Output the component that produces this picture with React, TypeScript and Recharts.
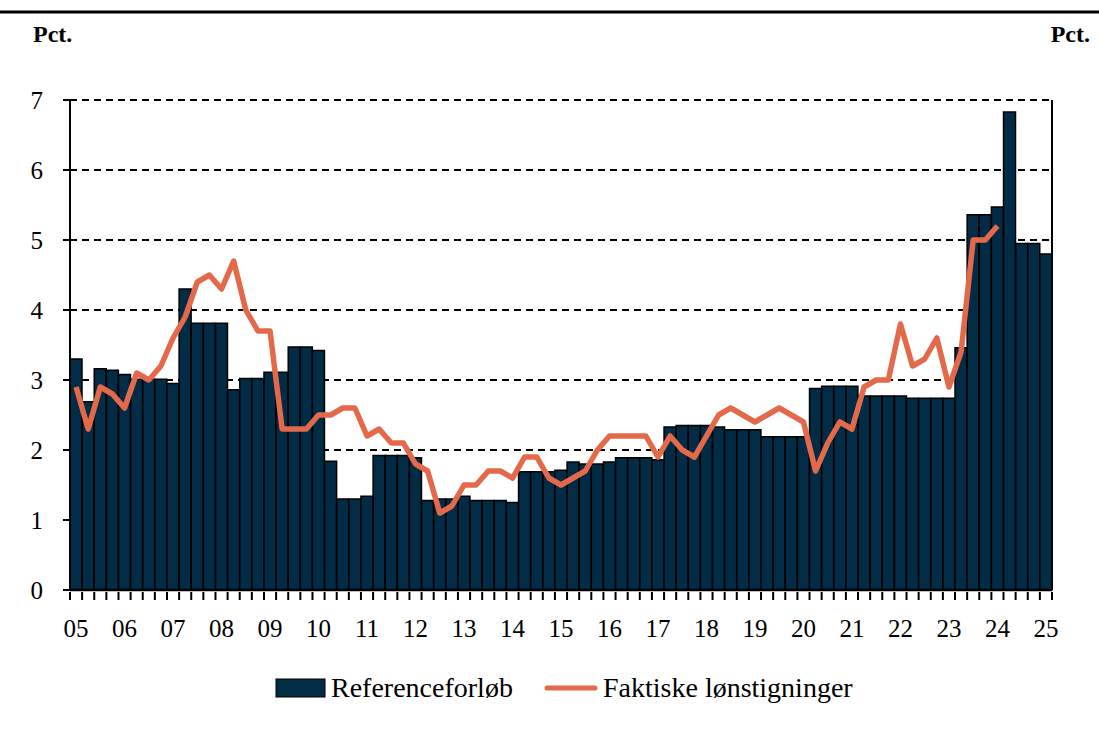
import React from "react";
import {
  ComposedChart,
  Bar,
  Line,
  XAxis,
  YAxis,
  CartesianGrid,
} from "recharts";

const years = ["05", "06", "07", "08", "09", "10", "11", "12", "13", "14", "15", "16", "17", "18", "19", "20", "21", "22", "23", "24", "25"];

// kvartaler 2005K1 - 2025K1
const quarters = years.flatMap((y, i) =>
  i === years.length - 1 ? [y + "K1"] : ["K1", "K2", "K3", "K4"].map((q) => y + q)
);

const reference = [
  3.3, 2.69, 3.16, 3.14,
  3.08, 3.01, 3.01, 3.01,
  2.95, 4.3, 3.81, 3.81,
  3.81, 2.86, 3.02, 3.02,
  3.11, 3.11, 3.47, 3.47,
  3.42, 1.84, 1.3, 1.3,
  1.34, 1.92, 1.92, 1.92,
  1.89, 1.28, 1.3, 1.3,
  1.34, 1.28, 1.28, 1.28,
  1.25, 1.69, 1.69, 1.69,
  1.71, 1.83, 1.8, 1.8,
  1.83, 1.89, 1.89, 1.89,
  1.86, 2.33, 2.35, 2.35,
  2.35, 2.33, 2.29, 2.29,
  2.29, 2.19, 2.19, 2.19,
  2.19, 2.88, 2.91, 2.91,
  2.91, 2.77, 2.77, 2.77,
  2.77, 2.74, 2.74, 2.74,
  2.74, 3.46, 5.36, 5.36,
  5.47, 6.83, 4.95, 4.95,
  4.8,
];

const actual = [
  2.9, 2.3, 2.9, 2.8,
  2.6, 3.1, 3.0, 3.2,
  3.6, 3.9, 4.4, 4.5,
  4.3, 4.7, 4.0, 3.7,
  3.7, 2.3, 2.3, 2.3,
  2.5, 2.5, 2.6, 2.6,
  2.2, 2.3, 2.1, 2.1,
  1.8, 1.7, 1.1, 1.2,
  1.5, 1.5, 1.7, 1.7,
  1.6, 1.9, 1.9, 1.6,
  1.5, 1.6, 1.7, 2.0,
  2.2, 2.2, 2.2, 2.2,
  1.9, 2.2, 2.0, 1.9,
  2.2, 2.5, 2.6, 2.5,
  2.4, 2.5, 2.6, 2.5,
  2.4, 1.7, 2.1, 2.4,
  2.3, 2.9, 3.0, 3.0,
  3.8, 3.2, 3.3, 3.6,
  2.9, 3.4, 5.0, 5.0,
  5.2, null, null, null,
  null,
];

const yTicks = [0, 1, 2, 3, 4, 5, 6, 7];

const data = quarters.map((q, i) => ({
  q,
  referenceforloeb: reference[i],
  faktiske: actual[i],
}));

const NAVY = "#022b46";
const ORANGE = "#e3694a";
const FONT = "'Liberation Serif', 'Times New Roman', serif";

// x-akse: tick mellem hver søjle, label kun ved 1. kvartal
function QuarterTick(props: any) {
  const { x, y, payload, index, visibleTicksCount } = props;
  const half = payload.offset ?? 6;
  const label = payload.value.endsWith("K1") ? payload.value.slice(0, 2) : "";
  const last = index === visibleTicksCount - 1;
  return (
    <g>
      <line x1={x - half} x2={x - half} y1={y - 8} y2={y} stroke="#000" strokeWidth={2} />
      {last && (
        <line x1={x + half} x2={x + half} y1={y - 8} y2={y} stroke="#000" strokeWidth={2} />
      )}
      {label && (
        <text x={x} y={y + 37} textAnchor="middle" fontSize={25} style={{ fontFamily: FONT }} fill="#000">
          {label}
        </text>
      )}
    </g>
  );
}

const yTickStyle = { fill: "#000", fontSize: 25, style: { fontFamily: FONT } };

export default function App() {
  return (
    <div style={{ position: "absolute", left: 0, top: 0, width: 1099, height: 731, background: "#fff", fontFamily: FONT }}>
      <ComposedChart
        width={1099}
        height={731}
        data={data}
        margin={{ top: 100, right: 0, bottom: 91, left: 10 }}
        barCategoryGap={0}
        barGap={0}
        style={{ fontFamily: FONT }}
      >
        <CartesianGrid
          yAxisId="left"
          vertical={false}
          stroke="#000"
          strokeWidth={2}
          strokeDasharray="7 5"
        />
        <XAxis
          dataKey="q"
          interval={0}
          height={50}
          tickLine={false}
          tickSize={8}
          axisLine={{ stroke: "#000", strokeWidth: 2.5 }}
          tick={<QuarterTick />}
        />
        <YAxis
          yAxisId="left"
          width={60}
          domain={[0, 7]}
          ticks={yTicks}
          tickSize={7}
          tickMargin={20}
          axisLine={{ stroke: "#000", strokeWidth: 2 }}
          tickLine={{ stroke: "#000", strokeWidth: 2 }}
          tick={yTickStyle}
        />
        <YAxis
          yAxisId="right"
          orientation="right"
          width={47}
          domain={[0, 7]}
          ticks={yTicks}
          tickSize={8}
          tickMargin={18}
          axisLine={{ stroke: "#000", strokeWidth: 2 }}
          tickLine={{ stroke: "#000", strokeWidth: 2 }}
          tick={{ ...yTickStyle, textAnchor: "start" }}
        />
        <Bar
          yAxisId="left"
          dataKey="referenceforloeb"
          fill={NAVY}
          stroke="#000"
          strokeWidth={1.5}
          isAnimationActive={false}
        />
        <Line
          yAxisId="left"
          dataKey="faktiske"
          type="linear"
          stroke={ORANGE}
          strokeWidth={5.5}
          strokeLinejoin="round"
          dot={false}
          activeDot={false}
          isAnimationActive={false}
        />
      </ComposedChart>

      <svg
        width={1099}
        height={731}
        style={{ position: "absolute", left: 0, top: 0, pointerEvents: "none", fontFamily: FONT }}
      >
        <line x1={0} x2={1099} y1={12} y2={12} stroke="#000" strokeWidth={3} />
        <text x={33} y={42} fontSize={24} fontWeight="bold">Pct.</text>
        <text x={1090} y={42} fontSize={24} fontWeight="bold" textAnchor="end">Pct.</text>

        <rect x={276} y={679} width={49} height={18} fill={NAVY} stroke="#000" strokeWidth={1} />
        <text x={331} y={697} fontSize={28}>Referenceforløb</text>
        <line x1={547} x2={595} y1={688} y2={688} stroke={ORANGE} strokeWidth={5} strokeLinecap="round" />
        <text x={603} y={697} fontSize={28}>Faktiske lønstigninger</text>
      </svg>
    </div>
  );
}
